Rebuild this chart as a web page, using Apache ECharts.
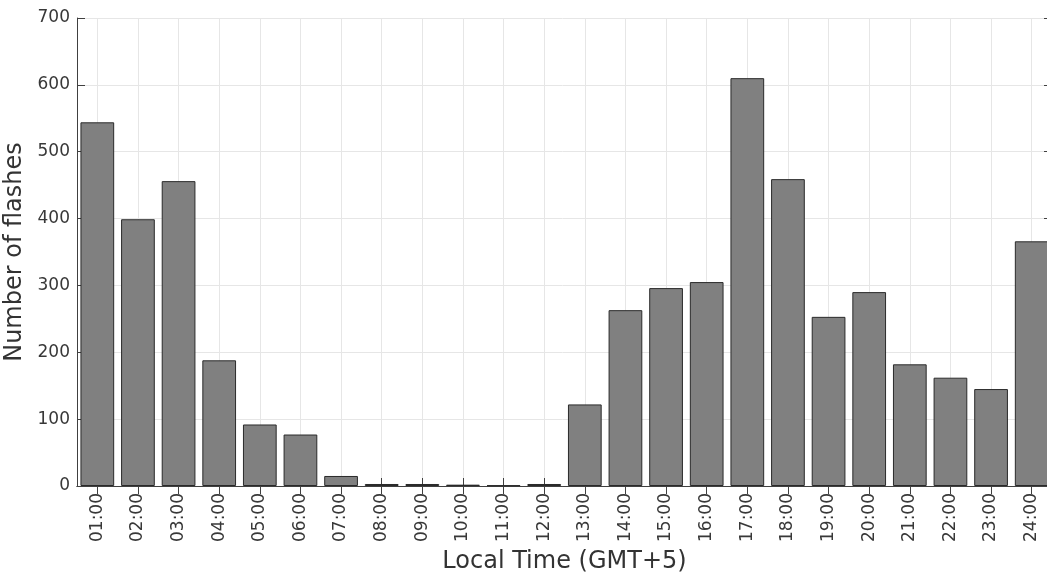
<!DOCTYPE html>
<html>
<head>
<meta charset="utf-8">
<script src="https://cdn.jsdelivr.net/npm/echarts@6/dist/echarts.min.js"></script>
<style>html,body{margin:0;padding:0;background:#fff;}#c{width:1047px;height:572px;}</style>
</head>
<body>
<div id="c"></div>
<script>
const categories = ['01:00','02:00','03:00','04:00','05:00','06:00','07:00','08:00','09:00','10:00','11:00','12:00','13:00','14:00','15:00','16:00','17:00','18:00','19:00','20:00','21:00','22:00','23:00','24:00'];
const flashes = [544, 399, 456, 188, 92, 77, 15, 3, 3, 2, 1, 3, 122, 263, 296, 305, 610, 459, 253, 290, 182, 162, 145, 366];
const yTicks = [0, 700, 100];
const xTitle = 'Local Time (GMT+5)';
const yTitle = 'Number of flashes';

const chart = echarts.init(document.getElementById('c'), null, {renderer: 'canvas'});
const font = 'DejaVu Sans';
const axisCol = '#404040';
const gridCol = '#e6e6e6';
chart.setOption({
  animation: false,
  backgroundColor: '#ffffff',
  grid: {left: 77, right: -5, top: 18, bottom: 86, containLabel: false, outerBoundsMode: 'none'},
  xAxis: [{
    type: 'category', data: categories, position: 'bottom',
    axisLine: {show: true, lineStyle: {color: axisCol, width: 1}},
    axisTick: {show: true, inside: true, length: 8, alignWithLabel: true, interval: 0, lineStyle: {color: axisCol}},
    axisLabel: {interval: 0, rotate: 90, margin: 7, fontFamily: font, fontSize: 17, color: '#383838'},
    splitLine: {show: true, alignWithLabel: true, interval: 0, lineStyle: {color: gridCol, width: 1}},
    name: xTitle, nameLocation: 'middle', nameGap: 59,
    nameTextStyle: {fontFamily: font, fontSize: 24, color: '#333'}
  }, {
    type: 'category', data: categories, position: 'top',
    axisLine: {show: true, lineStyle: {color: axisCol, width: 1}},
    axisTick: {show: true, inside: true, length: 8, alignWithLabel: true, interval: 0, lineStyle: {color: axisCol}},
    axisLabel: {show: false}, splitLine: {show: false}
  }],
  yAxis: [{
    type: 'value', min: yTicks[0], max: yTicks[1], interval: yTicks[2], position: 'left',
    axisLine: {show: true, lineStyle: {color: axisCol, width: 1}},
    axisTick: {show: true, inside: true, length: 8, lineStyle: {color: axisCol}},
    axisLabel: {margin: 7, fontFamily: font, fontSize: 17, color: '#383838'},
    splitLine: {show: true, lineStyle: {color: gridCol, width: 1}},
    name: yTitle, nameLocation: 'middle', nameGap: 50,
    nameTextStyle: {fontFamily: font, fontSize: 24, color: '#333'}
  }, {
    type: 'value', min: yTicks[0], max: yTicks[1], interval: yTicks[2], position: 'right',
    axisLine: {show: true, lineStyle: {color: axisCol, width: 1}},
    axisTick: {show: true, inside: true, length: 8, lineStyle: {color: axisCol}},
    axisLabel: {show: false}, splitLine: {show: false}
  }],
  series: [{
    type: 'bar', data: flashes, xAxisIndex: 0, yAxisIndex: 0,
    barCategoryGap: '17%',
    itemStyle: {color: '#808080', borderColor: '#2a2a2a', borderWidth: 1},
    z: 1
  }]
});
</script>
</body>
</html>
